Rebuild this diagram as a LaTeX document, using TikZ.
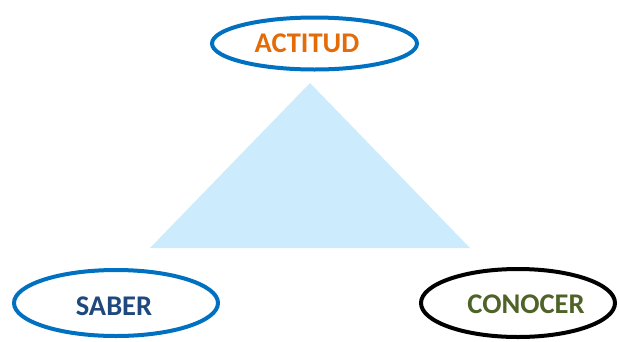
\documentclass[tikz,border=0pt]{standalone}
\usepackage{fontspec}
\setmainfont{Carlito}
\usetikzlibrary{shapes.geometric}
\definecolor{tri}{HTML}{CCEBFC}
\definecolor{eblue}{HTML}{0070C0}
\definecolor{torange}{HTML}{E36C09}
\definecolor{tblue}{HTML}{1F497D}
\definecolor{tgreen}{HTML}{4F6228}
\begin{document}
\begin{tikzpicture}[x=1pt,y=-1pt,
  oval/.style={draw=eblue,line width=4pt,fill=white},
  lbl/.style={font=\fontsize{28.5}{30}\selectfont\bfseries}]
\useasboundingbox (0,0) rectangle (619,341);
\fill[tri] (310,83) coordinate (apex) -- (470,248) coordinate (br) -- (150,248) coordinate (bl) -- cycle;
\draw[oval] (314.5,43.5) ellipse[x radius=102.5, y radius=26];
\node[lbl,text=torange] (actitud) at (307,43) {ACTITUD};
\draw[oval] (116,303) ellipse[x radius=102, y radius=33];
\node[lbl,text=tblue] (saber) at (114,306) {SABER};
\draw[draw=black,line width=4pt] (518,303) ellipse[x radius=97, y radius=34];
\node[lbl,text=tgreen] (conocer) at (526,304) {CONOCER};
\end{tikzpicture}
\end{document}
